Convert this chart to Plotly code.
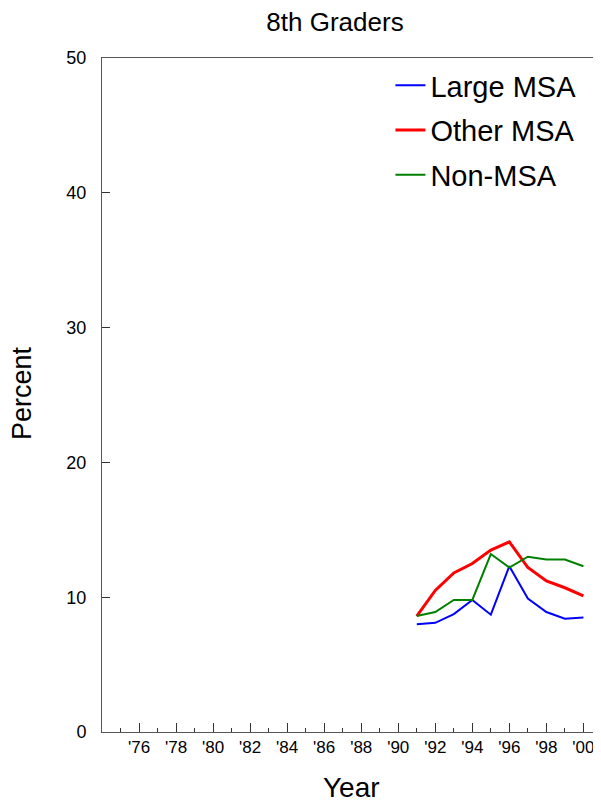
import plotly.graph_objects as go

years = [1991, 1992, 1993, 1994, 1995, 1996, 1997, 1998, 1999, 2000]
large_msa = [8.0, 8.1, 8.75, 9.8, 8.7, 12.3, 9.9, 8.9, 8.4, 8.5]
other_msa = [8.6, 10.5, 11.8, 12.5, 13.5, 14.1, 12.2, 11.2, 10.7, 10.1]
non_msa = [8.6, 8.9, 9.8, 9.8, 13.2, 12.2, 13.0, 12.8, 12.8, 12.3]

tick_years = list(range(1976, 2001, 2))
tick_labels = ["'" + str(y)[2:] for y in tick_years]
y_ticks = [0, 10, 20, 30, 40, 50]

FONT = "Liberation Sans, Arial, sans-serif"

# the page has an 8px body margin; size the figure to the visible window
W, H = 593, 798
ML, MT, MB, MR = 94, 50, 74, 0
PW, PH = W - ML - MR, H - MT - MB

fig = go.Figure()
fig.add_trace(go.Scatter(x=years, y=large_msa, mode="lines", name="Large MSA",
                         legendgroup="a", line=dict(color="#0000ff", width=2)))
fig.add_trace(go.Scatter(x=years, y=other_msa, mode="lines", name="Other MSA",
                         legendgroup="b", line=dict(color="#ff0000", width=3)))
fig.add_trace(go.Scatter(x=years, y=non_msa, mode="lines", name="Non-MSA",
                         legendgroup="c", line=dict(color="#008000", width=2)))

fig.update_layout(
    width=W, height=H,
    margin=dict(l=ML, r=MR, t=MT, b=MB, pad=0),
    paper_bgcolor="white", plot_bgcolor="white",
    font=dict(family=FONT, color="black"),
    title=dict(text="8th Graders", x=327/W, xanchor="center",
               y=1 - 14/H, yanchor="middle", font=dict(size=26)),
    showlegend=True,
    legend=dict(x=0.578, xanchor="left", y=0.997, yanchor="top",
                font=dict(size=29), bgcolor="rgba(0,0,0,0)",
                itemwidth=30, tracegroupgap=4),
    annotations=[
        dict(text="Year", xref="paper", yref="paper", x=0.501,
             y=-(779 - (MT + PH)) / PH,
             xanchor="center", yanchor="middle", showarrow=False,
             font=dict(size=28)),
        dict(text="Percent", xref="paper", yref="paper", x=(14 - ML) / PW, y=0.503,
             xanchor="center", yanchor="middle", showarrow=False, textangle=-90,
             font=dict(size=27)),
    ],
)

fig.update_xaxes(
    range=[1974, 2000.95], showgrid=False, zeroline=False,
    showline=True, linecolor="#555555", linewidth=1, mirror=True,
    tickmode="array", tickvals=tick_years, ticktext=tick_labels,
    ticks="inside", ticklen=9, tickcolor="#333333", tickwidth=1,
    tickfont=dict(size=17),
    minor=dict(ticks="inside", ticklen=4, dtick=1, tick0=1974,
               tickcolor="#333333", showgrid=False),
)
fig.update_yaxes(
    range=[0, 50], showgrid=False, zeroline=False,
    showline=True, linecolor="#555555", linewidth=1,
    tickmode="array", tickvals=y_ticks,
    ticks="inside", ticklen=8, tickcolor="#333333", tickwidth=1,
    tickfont=dict(size=18), ticklabelstandoff=11,
)

fig.write_html("out.html")
